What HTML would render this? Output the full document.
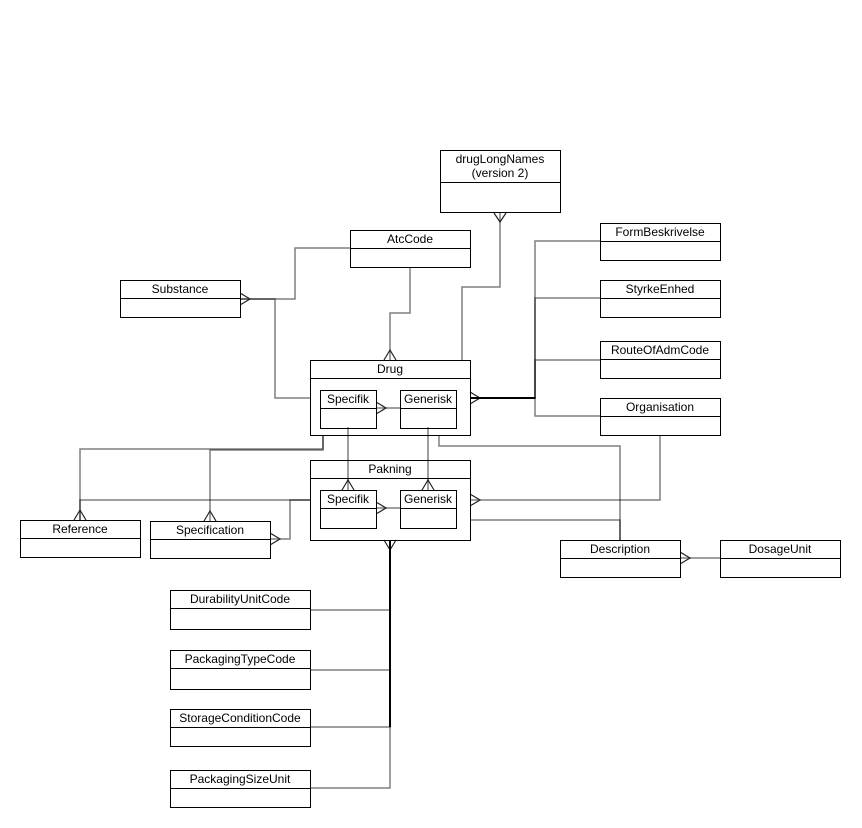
<!DOCTYPE html>
<html>
<head>
<meta charset="utf-8">
<style>
html,body{margin:0;padding:0;background:#fff;}
svg{display:block;}
text{font-family:"Liberation Sans",Arial,sans-serif;font-size:12px;fill:#000;}
</style>
</head>
<body>
<svg width="862" height="828" viewBox="0 0 862 828" xmlns="http://www.w3.org/2000/svg">
<rect width="862" height="828" fill="#fff"/>

<!-- connectors -->
<g fill="none" stroke="#000" stroke-opacity="0.5" stroke-width="1.5">
  <polyline points="500,213 500,287 462,287 462,360"/>
  <polyline points="410,267 410,313 390,313 390,360"/>
  <polyline points="350,248 295,248 295,299 240,299"/>
  <polyline points="240,299 275,299 275,398 310,398"/>
  <polyline points="470,398 535,398 535,241 600,241"/>
  <polyline points="470,398 535,398 535,298 600,298"/>
  <polyline points="470,398 535,398 535,360 600,360"/>
  <polyline points="470,398 535,398 535,416 600,416"/>
  <polyline points="660,435 660,500 470,500"/>
  <polyline points="439,436 439,446 620,446 620,540"/>
  <polyline points="470,520 620,520 620,540"/>
  <polyline points="680,558 720,558"/>
  <polyline points="376,408 400,408"/>
  <polyline points="376,508 400,508"/>
  <polyline points="323,436 323,449 80,449 80,520"/>
  <polyline points="323,436 323,450 210,450 210,521"/>
  <polyline points="310,500 80,500 80,520"/>
  <polyline points="310,500 290,500 290,539 270,539"/>
  <polyline points="390,540 390,610 310,610"/>
  <polyline points="390,540 390,670 310,670"/>
  <polyline points="390,540 390,727 310,727"/>
  <polyline points="390,540 390,788 310,788"/>
</g>

<!-- crow's feet -->
<g fill="none" stroke="#222" stroke-width="1.2">
  <polyline points="494,213 500,222 506,213"/>
  <polyline points="384,360 390,350 396,360"/>
  <polyline points="240,293 250,299 240,305"/>
  <polyline points="470,392 480,398 470,404"/>
  <polyline points="470,494 480,500 470,506"/>
  <polyline points="680,552 690,558 680,564"/>
  <polyline points="376,402 386,408 376,414"/>
  <polyline points="376,502 386,508 376,514"/>
  <polyline points="342,490 348,480 354,490"/>
  <polyline points="422,490 428,480 434,490"/>
  <polyline points="74,520 80,510 86,520"/>
  <polyline points="204,521 210,511 216,521"/>
  <polyline points="270,533 280,539 270,545"/>
  <polyline points="384,540 390,550 396,540"/>
</g>
<g fill="none" stroke="#000" stroke-width="2">
  <line x1="470" y1="398" x2="535" y2="398"/>
  <line x1="390" y1="540" x2="390" y2="727"/>
</g>

<!-- entity boxes -->
<g fill="#fff" stroke="#000" stroke-width="1">
  <rect x="440.5" y="150.5" width="120" height="62"/>
  <line x1="440.5" y1="182.5" x2="560.5" y2="182.5"/>
  <rect x="350.5" y="230.5" width="120" height="37"/>
  <line x1="350.5" y1="248.5" x2="470.5" y2="248.5"/>
  <rect x="120.5" y="280.5" width="120" height="37"/>
  <line x1="120.5" y1="298.5" x2="240.5" y2="298.5"/>
  <rect x="600.5" y="223.5" width="120" height="37"/>
  <line x1="600.5" y1="241.5" x2="720.5" y2="241.5"/>
  <rect x="600.5" y="280.5" width="120" height="37"/>
  <line x1="600.5" y1="298.5" x2="720.5" y2="298.5"/>
  <rect x="600.5" y="341.5" width="120" height="37"/>
  <line x1="600.5" y1="359.5" x2="720.5" y2="359.5"/>
  <rect x="600.5" y="398.5" width="120" height="37"/>
  <line x1="600.5" y1="416.5" x2="720.5" y2="416.5"/>
  <rect x="20.5" y="520.5" width="120" height="37"/>
  <line x1="20.5" y1="538.5" x2="140.5" y2="538.5"/>
  <rect x="150.5" y="521.5" width="120" height="37"/>
  <line x1="150.5" y1="539.5" x2="270.5" y2="539.5"/>
  <rect x="560.5" y="540.5" width="120" height="37"/>
  <line x1="560.5" y1="558.5" x2="680.5" y2="558.5"/>
  <rect x="720.5" y="540.5" width="120" height="37"/>
  <line x1="720.5" y1="558.5" x2="840.5" y2="558.5"/>
  <rect x="170.5" y="590.5" width="140" height="39"/>
  <line x1="170.5" y1="608.5" x2="310.5" y2="608.5"/>
  <rect x="170.5" y="650.5" width="140" height="39"/>
  <line x1="170.5" y1="668.5" x2="310.5" y2="668.5"/>
  <rect x="170.5" y="709.5" width="140" height="37"/>
  <line x1="170.5" y1="727.5" x2="310.5" y2="727.5"/>
  <rect x="170.5" y="770.5" width="140" height="37"/>
  <line x1="170.5" y1="788.5" x2="310.5" y2="788.5"/>
</g>

<g fill="none" stroke="#000" stroke-width="1">
  <rect x="310.5" y="360.5" width="160" height="75" fill="none"/>
  <line x1="310.5" y1="378.5" x2="470.5" y2="378.5"/>
  <rect x="320.5" y="390.5" width="56" height="38" fill="#fff"/>
  <line x1="320.5" y1="408.5" x2="376.5" y2="408.5"/>
  <rect x="400.5" y="390.5" width="56" height="38" fill="#fff"/>
  <line x1="400.5" y1="408.5" x2="456.5" y2="408.5"/>
  <rect x="310.5" y="460.5" width="160" height="80"/>
  <line x1="310.5" y1="478.5" x2="470.5" y2="478.5"/>
  <rect x="320.5" y="490.5" width="56" height="38" fill="#fff"/>
  <line x1="320.5" y1="508.5" x2="376.5" y2="508.5"/>
  <rect x="400.5" y="490.5" width="56" height="38" fill="#fff"/>
  <line x1="400.5" y1="508.5" x2="456.5" y2="508.5"/>
</g>
<g fill="none" stroke="#000" stroke-opacity="0.5" stroke-width="1.5">
  <polyline points="348,427 348,490"/>
  <polyline points="428,427 428,490"/>
</g>

<g text-anchor="middle">
  <text x="500" y="163">drugLongNames</text>
  <text x="500" y="177">(version 2)</text>
  <text x="410" y="243">AtcCode</text>
  <text x="180" y="293">Substance</text>
  <text x="660" y="236">FormBeskrivelse</text>
  <text x="660" y="293">StyrkeEnhed</text>
  <text x="660" y="354">RouteOfAdmCode</text>
  <text x="660" y="411">Organisation</text>
  <text x="390" y="373">Drug</text>
  <text x="348" y="403">Specifik</text>
  <text x="428" y="403">Generisk</text>
  <text x="390" y="473">Pakning</text>
  <text x="348" y="503">Specifik</text>
  <text x="428" y="503">Generisk</text>
  <text x="80" y="533">Reference</text>
  <text x="210" y="534">Specification</text>
  <text x="620" y="553">Description</text>
  <text x="780" y="553">DosageUnit</text>
  <text x="240" y="603">DurabilityUnitCode</text>
  <text x="240" y="663">PackagingTypeCode</text>
  <text x="240" y="722">StorageConditionCode</text>
  <text x="240" y="783">PackagingSizeUnit</text>
</g>
</svg>
</body>
</html>
